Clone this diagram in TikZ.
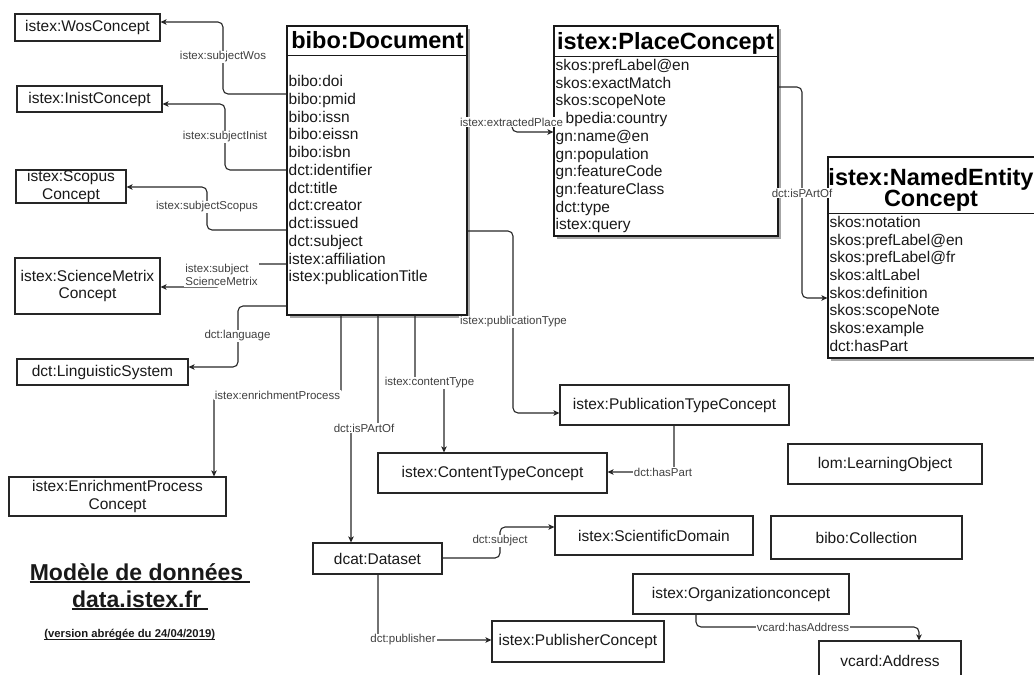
\documentclass[tikz,border=0pt]{standalone}
\usepackage{fontspec}
\setmainfont{Liberation Sans}
\usetikzlibrary{arrows.meta}
\begin{document}
\begin{tikzpicture}[x=1pt,y=-1pt,
  box/.style={draw=black!85, line width=1.1pt, fill=white, inner sep=0pt, font=\fontsize{15.5}{17.7}\selectfont, align=center, text=black!90},
  umlbox/.style={draw=black!90, line width=1.2pt, fill=white, inner sep=0pt},
  shadowfill/.style={fill=black!35},
  divider/.style={draw=black!90, line width=0.9pt},
  hdr/.style={font=\fontsize{23.5}{21.7}\bfseries\selectfont, inner sep=0pt, anchor=base, text=black},
  attr/.style={font=\fontsize{15.5}{17.7}\selectfont, inner sep=0pt, anchor=base west, text=black!90},
  conn/.style={draw=black!85, line width=1.1pt, rounded corners=5pt, -{Stealth[length=6pt,width=5.5pt,inset=1.5pt]}},
  lbl/.style={fill=white, inner sep=1pt, font=\fontsize{11.5}{13}\selectfont, text=black!75, align=left},
  ttl/.style={font=\fontsize{23}{26}\bfseries\selectfont, inner sep=0pt, anchor=base, text=black!90},
  uline/.style={draw=black!90, line width=1.6pt},
]
\useasboundingbox (0,0) rectangle (1034,675);
\clip (0,0) rectangle (1034,675);

% ---------- bibo:Document ----------
\path[shadowfill] (290,29) rectangle (470,318);
\node[umlbox, minimum width=180pt, minimum height=289pt] (doc) at (377,170.5) {};
\draw[divider] (doc.west |- 0,55) -- (doc.east |- 0,55);
\node[hdr] (doch) at (377.5,48.5) {bibo:Document};
\foreach \t [count=\i] in {bibo:doi,bibo:pmid,bibo:issn,bibo:eissn,bibo:isbn,dct:identifier,dct:title,dct:creator,dct:issued,dct:subject,istex:affiliation,istex:publicationTitle}
  \node[attr] (da\i) at (288.5,{86.7+(\i-1)*17.73}) {\t};

% ---------- istex:PlaceConcept ----------
\path[shadowfill] (557,29) rectangle (781,239);
\node[umlbox, minimum width=224pt, minimum height=210pt] (place) at (666,131) {};
\draw[divider] (place.west |- 0,56) -- (place.east |- 0,56);
\node[hdr] (placeh) at (665.5,49.5) {istex:PlaceConcept};
\foreach \t [count=\i] in {skos:prefLabel@en,skos:exactMatch,skos:scopeNote,{\hspace*{10pt}bpedia:country},gn:name@en,gn:population,gn:featureCode,gn:featureClass,dct:type,istex:query}
  \node[attr] (pa\i) at (555.5,{70.5+(\i-1)*17.7}) {\t};

% ---------- istex:NamedEntityConcept ----------
\path[shadowfill] (831,160) rectangle (1040,361);
\node[umlbox, minimum width=208pt, minimum height=201pt] (ne) at (932,257.5) {};
\draw[divider] (ne.west |- 0,213) -- (ne.east |- 0,213);
\node[hdr] (neh1) at (931,185) {istex:NamedEntity};
\node[hdr] (neh2) at (931,206.7) {Concept};
\foreach \t [count=\i] in {skos:notation,skos:prefLabel@en,skos:prefLabel@fr,skos:altLabel,skos:definition,skos:scopeNote,skos:example,dct:hasPart}
  \node[attr] (na\i) at (829.3,{227.3+(\i-1)*17.7}) {\t};

% ---------- simple boxes ----------
\node[box, minimum width=145pt, minimum height=27pt] (wos) at (87.5,27.5) {istex:WosConcept};
\node[box, minimum width=145pt, minimum height=26pt] (inist) at (89.5,99) {istex:InistConcept};
\node[box, minimum width=110pt, minimum height=33pt] (scopus) at (71,186.5) {istex:Scopus\\Concept};
\node[box, minimum width=145pt, minimum height=56pt] (scimx) at (87.5,286) {istex:ScienceMetrix\\Concept};
\node[box, minimum width=171pt, minimum height=26pt] (ling) at (102.5,372) {dct:LinguisticSystem};
\node[box, minimum width=217pt, minimum height=39pt] (enrich) at (117.5,496.5) {istex:EnrichmentProcess\\Concept};
\node[box, minimum width=229pt, minimum height=40pt] (ctype) at (492.5,473) {istex:ContentTypeConcept};
\node[box, minimum width=229pt, minimum height=40pt] (ptype) at (674.5,405) {istex:PublicationTypeConcept};
\node[box, minimum width=129pt, minimum height=31pt] (dataset) at (377.5,558.5) {dcat:Dataset};
\node[box, minimum width=198pt, minimum height=39pt] (scidom) at (654,535.5) {istex:ScientificDomain};
\node[box, minimum width=191pt, minimum height=43pt] (coll) at (866.5,537.5) {bibo:Collection};
\node[box, minimum width=194pt, minimum height=40pt] (lom) at (885,464) {lom:LearningObject};
\node[box, minimum width=216pt, minimum height=40pt] (org) at (741,594) {istex:Organizationconcept};
\node[box, minimum width=172pt, minimum height=41pt] (pub) at (578,641.5) {istex:PublisherConcept};
\node[box, minimum width=142pt, minimum height=40pt] (addr) at (890,661) {vcard:Address};

% ---------- connectors ----------
\draw[conn] (doc.west |- 0,94) -- (223,94) -- (223,22) -- (wos.east |- 0,22);
\node[lbl] (l1) at (223,57) {istex:subjectWos};

\draw[conn] (doc.west |- 0,170) -- (225,170) -- (225,104) -- (inist.east |- 0,104);
\node[lbl] (l2) at (225,137) {istex:subjectInist};

\draw[conn] (doc.west |- 0,230) -- (207,230) -- (207,187) -- (scopus.east |- 0,187);
\node[lbl] (l3) at (207,207) {istex:subjectScopus};

\draw[conn] (doc.west |- 0,264) -- (222,264) -- (222,287) -- (scimx.east |- 0,287);
\node[lbl] (l4) at (221.5,275) {istex:subject\\ScienceMetrix};

\draw[conn] (doc.west |- 0,306) -- (238,306) -- (238,367) -- (ling.east |- 0,367);
\node[lbl] (l5) at (237.5,336) {dct:language};

\draw[conn] (doc.south -| 341,0) -- (341,395) -- (214,395) -- (enrich.north -| 214,0);
\node[lbl] (l6) at (277.5,395) {istex:enrichmentProcess};

\draw[conn] (doc.south -| 378,0) -- (378,428) -- (351,428) -- (dataset.north -| 351,0);
\node[lbl] (l7) at (364,428) {dct:isPArtOf};

\draw[conn] (doc.south -| 415,0) -- (415,383) -- (444,383) -- (ctype.north -| 444,0);
\node[lbl] (l8) at (429.5,383) {istex:contentType};

\draw[conn] (doc.east |- 0,231) -- (513,231) -- (513,413) -- (ptype.west |- 0,413);
\node[lbl] (l9) at (513.5,322) {istex:publicationType};

\draw[conn] (doc.east |- 0,122) -- (512,122) -- (512,132) -- (place.west |- 0,132);
\node[lbl] (l10) at (511.5,122) {istex:extractedPlace};

\draw[conn] (place.east |- 0,87) -- (802,87) -- (802,298) -- (ne.west |- 0,298);
\node[lbl] (l11) at (802,193) {dct:isPArtOf};

\draw[conn] (ptype.south -| 674,0) -- (674,472) -- (ctype.east |- 0,472);
\node[lbl] (l12) at (663,472) {dct:hasPart};

\draw[conn] (dataset.east |- 0,558) -- (500,558) -- (500,527) -- (scidom.west |- 0,527);
\node[lbl] (l13) at (500,541) {dct:subject};

\draw[conn] (dataset.south -| 378,0) -- (378,640) -- (pub.west |- 0,640);
\node[lbl] (l14) at (403,640) {dct:publisher};

\draw[conn] (org.south -| 696,0) -- (696,627) -- (919,627) -- (addr.north -| 919,0);
\node[lbl] (l15) at (803,627) {vcard:hasAddress};

% ---------- title ----------
\node[ttl] (t1) at (136.5,580) {Modèle de données};
\draw[uline] ([yshift=-2pt]t1.base west) -- ([xshift=7pt,yshift=-2pt]t1.base east);
\node[ttl] (t2) at (136.7,607.7) {data.istex.fr};
\draw[uline] ([yshift=-1.5pt]t2.base west) -- ([xshift=7pt,yshift=-1.5pt]t2.base east);
\node[ttl, font=\fontsize{11.3}{13}\bfseries\selectfont] (t3) at (129.7,637) {(version abrégée du 24/04/2019)};
\draw[uline, line width=1pt] ([yshift=-2.2pt]t3.base west) -- ([yshift=-2.2pt]t3.base east);
\end{tikzpicture}
\end{document}
